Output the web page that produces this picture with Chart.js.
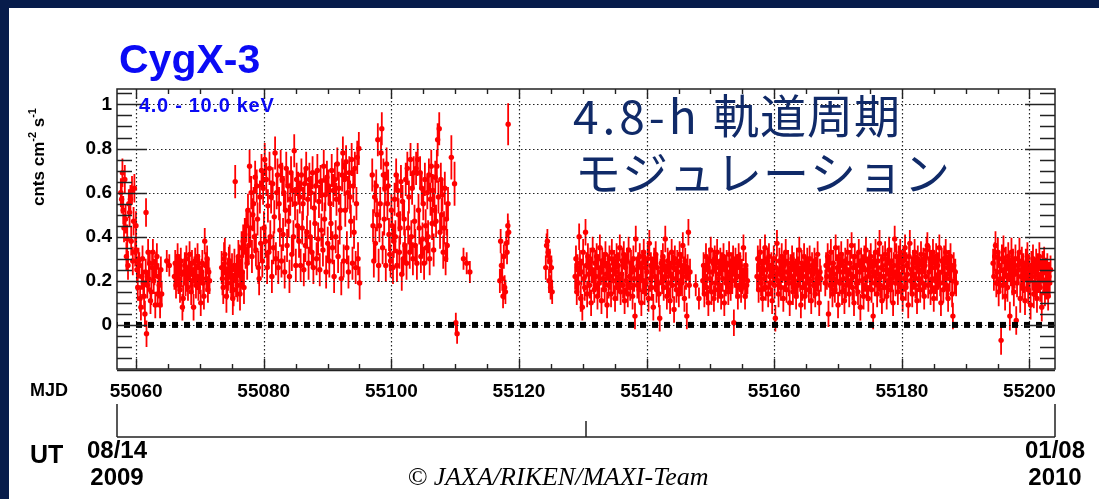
<!DOCTYPE html>
<html>
<head>
<meta charset="utf-8">
<title>CygX-3 MAXI light curve</title>
<script src="https://cdn.jsdelivr.net/npm/chart.js@4.4.1/dist/chart.umd.min.js"></script>
<style>
  html, body { margin: 0; padding: 0; width: 1099px; height: 499px; overflow: hidden; background: #071c4b; }
  #panel { position: absolute; left: 9px; top: 8px; right: 0; bottom: 0; background: #fff; }
  #wrap { position: absolute; left: 0; top: 0; width: 1099px; height: 499px; }
</style>
</head>
<body>
<div id="panel"></div>
<div id="wrap"><canvas id="lc" width="1099" height="499"></canvas></div>
<script>
// CygX-3, MAXI/GSC 4.0-10.0 keV, MJD 55057 (2009/08/14) .. 55204 (2010/01/08)

const mjdRange = [55057, 55204];
const rateRange = [-0.2, 1.07];
const xTicks = [55060, 55080, 55100, 55120, 55140, 55160, 55180, 55200];
const yTicks = [0, 0.2, 0.4, 0.6, 0.8, 1];
const utDates = ['08/14', '01/08'];
const utYears = ['2009', '2010'];

// observation blocks: first bin (MJD), bin spacing (d), typical 1-sigma error (cnts cm^-2 s^-1)
const blockStart = [55057.6, 55060.0, 55061.55, 55064.8, 55066.0, 55073.4, 55097.0, 55109.4, 55110.1,
  55111.3, 55117.0, 55118.3, 55124.2, 55128.8, 55147.7, 55148.8, 55157.3, 55168.0, 55194.3];
const blockStep = [0.125, 0.125, 1, 0.4, 0.125, 0.125, 0.125, 0.5, 0.2,
  0.5, 0.125, 1, 0.125, 0.125, 0.5, 0.125, 0.125, 0.125, 0.125];
const blockErr = [0.065, 0.06, 0.065, 0.05, 0.06, 0.075, 0.075, 0.1, 0.045,
  0.05, 0.055, 0.095, 0.055, 0.06, 0.05, 0.06, 0.06, 0.06, 0.065];

// count rates per bin, in units of 0.01 cnts cm^-2 s^-1
const blockRates = [
  [60, 57, 69, 52, 44, 66, 48, 31, 39, 27, 55, 51, 57, 38, 61, 29, 47, 62, 33, 45],
  [34, 25, 17, 29, 27, 12, 8, 22, 30, 19, 13, 5, 24, -4, 18, 33, 21, 28, 11, 15,
   26, 33, 20, 24, 9, 27, 31, 14, 22, 18, 9, 25, 14],
  [51],
  [29, 27],
  [22, 28, 18, 25, 31, 20, 26, 16, 29, 23, 8, 12, 24, 27, 19, 30, 21, 17, 26, 32,
   23, 15, 28, 20, 8, 25, 29, 18, 22, 31, 17, 26, 20, 10, 24, 28, 19, 13, 38, 27,
   21, 30, 16, 24, 20],
  [26, 21, 17, 30, 32, 24, 13, 19, 23, 28, 29, 22, 19, 25, 12, 16, 27, 65, 20, 24,
   18, 31, 29, 14, 22, 35, 24, 38, 17, 41, 33, 45, 28, 52, 36, 72, 44, 60, 31, 50,
   55, 40, 67, 34, 63, 48, 26, 21, 58, 37, 70, 29, 62, 44, 75, 38, 66, 26, 54, 33,
   71, 40, 58, 22, 64, 35, 49, 78, 30, 60, 68, 26, 55, 43, 72, 29, 66, 41, 60, 24,
   52, 71, 36, 63, 47, 22, 57, 69, 32, 61, 40, 79, 55, 27, 66, 45, 62, 38, 58, 27,
   68, 44, 55, 25, 64, 36, 71, 42, 57, 28, 66, 40, 60, 33, 69, 26, 53, 46, 63, 30,
   70, 39, 56, 25, 65, 43, 59, 34, 72, 48, 59, 24, 67, 37, 63, 29, 55, 46, 70, 35,
   61, 22, 66, 40, 57, 73, 31, 62, 44, 52, 21, 68, 78, 29, 66, 52, 74, 35, 60, 24,
   69, 58, 47, 75, 28, 63, 42, 71, 26, 55, 76, 30, 80, 19],
  [68, 45, 29, 58, 37, 63, 50, 84, 27, 45, 55, 78, 89, 35, 68, 48, 62, 27, 73, 55,
   63, 41, 32, 29, 52, 45, 26, 38, 57, 40, 68, 27, 61, 50, 33, 44, 65, 23, 56, 30,
   48, 36, 66, 28, 71, 44, 58, 33, 75, 40, 62, 30, 69, 47, 36, 71, 28, 75, 52, 44,
   69, 31, 62, 39, 55, 28, 66, 45, 35, 60, 40, 68, 30, 57, 72, 46, 61, 34, 52, 67,
   47, 72, 84, 58, 89, 42, 66, 50, 59, 33, 44, 62, 30, 48, 36, 55],
  [76, 64],
  [1, -4],
  [30, 28, 24],
  [20, 38, 27, 21, 13, 31, 17, 15, 37, 33, 45, 42],
  [91],
  [26, 36, 38, 33, 20, 29, 17, 26, 15],
  [22, 30, 15, 26, 19, 40, 28, 12, 24, 8, 33, 21, 17, 42, 27, 14, 31, 23, 18, 29,
   10, 25, 34, 20, 16, 28, 22, 31, 13, 26, 19, 35, 24, 11, 29, 21, 27, 16, 32, 23,
   9, 26, 18, 30, 22, 14, 33, 25, 20, 28, 12, 24, 31, 17, 27, 21, 35, 15, 23, 29,
   18, 32, 11, 26, 20, 29, 14, 34, 22, 17, 28, 24, 13, 30, 21, 4, 39, 25, 18, 27,
   16, 31, 22, 10, 28, 20, 33, 15, 26, 19, 24, 30, 12, 37, 21, 27, 17, 25, 8, 29,
   22, 32, 16, 26, 19, 14, 3, 24, 28, 20, 31, 17, 25, 39, 22, 13, 29, 19, 27, 11,
   23, 33, 18, 26, 7, 30, 21, 16, 28, 24, 14, 32, 20, 27, 19, 36, 25, 12, 29, 22,
   4, 26, 42, 18, 24],
  [18, 12],
  [20, 27, 14, 22, 31, 17, 25, 10, 29, 21, 34, 15, 24, 28, 12, 30, 19, 26, 33, 16,
   23, 18, 29, 13, 27, 21, 31, 10, 25, 19, 28, 22, 15, 32, 24, 17, 27, 20, 30, 1,
   23, 29, 18, 26, 13, 31, 22, 27, 16, 24, 20, 35, 22, 13, 27, 18, 20],
  [22, 30, 16, 26, 33, 19, 24, 12, 28, 21, 35, 17, 25, 29, 14, 31, 22, 19, 27, 11,
   24, 30, 18, 3, 26, 37, 20, 14, 29, 23, 17, 31, 25, 12, 27, 21, 33, 16, 24, 28,
   19, 10, 26, 22, 30, 15, 27, 20, 23, 13, 29, 18, 25, 34, 21, 9, 28, 17, 22, 31,
   13, 25, 19, 29, 24, 16, 30, 20, 11, 27, 23, 18, 29, 14, 25, 21, 32, 19, 10, 24, 21],
  [19, 27, 22, 31, 5, 25, 18, 33, 21, 14, 28, 23, 16, 35, 20, 26, 9, 30, 19, 24,
   32, 15, 27, 21, 11, 29, 18, 25, 33, 20, 14, 28, 23, 36, 17, 26, 10, 31, 22, 19,
   27, 15, 33, 24, 8, 29, 20, 26, 13, 30, 21, 34, 17, 25, 12, 28, 22, 31, 16, 24,
   4, 27, 19, 33, 23, 14, 29, 21, 37, 18, 26, 11, 30, 22, 17, 32, 25, 13, 28, 20,
   34, 23, 16, 29, 21, 10, 27, 39, 19, 31, 24, 15, 30, 22, 33, 18, 26, 12, 29, 21,
   35, 17, 27, 23, 9, 31, 37, 20, 25, 14, 28, 22, 33, 18, 26, 11, 30, 21, 24, 16,
   32, 25, 19, 29, 13, 27, 22, 34, 36, 18, 24, 30, 15, 28, 21, 33, 12, 26, 20, 31,
   17, 27, 23, 35, 19, 10, 29, 24, 16, 30, 22, 33, 18, 26, 12, 28, 21, 31, 25, 14,
   4, 27, 20, 24, 19],
  [28, 22, 31, 36, 19, 24, 33, 15, 27, 21, -7, 30, 18, 34, 25, 13, 29, 22, 17, 31,
   26, 4, 24, 33, 20, 28, 15, 23, 30, 2, 19, 27, 25, 33, 12, 22, 29, 18, 26, 21,
   11, 28, 23, 31, 16, 25, 20, 9, 27, 22, 30, 14, 24, 19, 28, 12, 26, 21, 31, 17,
   23, 8, 27, 20, 29, 15, 24, 18, 26, 13, 22, 19, 25]
];

const SANS = '"Liberation Sans", Arial, Helvetica, sans-serif';
const red = '#ff0000';

const points = [];
blockRates.forEach((rates, b) => {
  rates.forEach((r, i) => points.push({ x: blockStart[b] + i * blockStep[b], y: r / 100, e: blockErr[b] }));
});

// vertical error bars, drawn under the markers
const errorBars = {
  id: 'errorBars',
  beforeDatasetsDraw(chart) {
    const { ctx, chartArea: a, scales: { x, y } } = chart;
    ctx.save();
    ctx.beginPath();
    ctx.rect(a.left, a.top, a.right - a.left, a.bottom - a.top);
    ctx.clip();
    ctx.strokeStyle = red;
    ctx.lineWidth = 1.8;
    ctx.beginPath();
    points.forEach(p => {
      const px = x.getPixelForValue(p.x);
      ctx.moveTo(px, y.getPixelForValue(p.y - p.e));
      ctx.lineTo(px, y.getPixelForValue(p.y + p.e));
    });
    ctx.stroke();
    ctx.restore();
  }
};

// dotted grid, frame with inward ticks on all four sides, UT axis
const frame = {
  id: 'frame',
  beforeDatasetsDraw(chart) {
    const { ctx, chartArea: a, scales: { x, y } } = chart;
    ctx.save();
    ctx.strokeStyle = '#222';
    ctx.lineWidth = 1.2;
    ctx.setLineDash([1.5, 2.5]);
    ctx.beginPath();
    xTicks.forEach(v => {
      const px = Math.round(x.getPixelForValue(v)) + 0.5;
      ctx.moveTo(px, a.top); ctx.lineTo(px, a.bottom);
    });
    yTicks.forEach(v => {
      const py = Math.round(y.getPixelForValue(v)) + 0.5;
      ctx.moveTo(a.left, py); ctx.lineTo(a.right, py);
    });
    ctx.stroke();
    ctx.restore();
  },
  afterDatasetsDraw(chart) {
    const { ctx, chartArea: a, scales: { x, y } } = chart;
    ctx.save();
    ctx.strokeStyle = '#222';
    ctx.lineWidth = 1.5;
    ctx.strokeRect(a.left, a.top, a.right - a.left, a.bottom - a.top);
    ctx.beginPath();
    ctx.moveTo(a.left, a.bottom + 1.5); ctx.lineTo(a.right, a.bottom + 1.5);
    ctx.stroke();

    ctx.lineWidth = 1.4;
    ctx.beginPath();
    // y: major every 0.2, minor every 0.05
    for (let k = -4; k <= 21; k++) {
      const v = k * 0.05;
      const len = k % 4 === 0 ? 30 : 15;
      const py = Math.round(y.getPixelForValue(v)) + 0.5;
      if (py < a.top || py > a.bottom) continue;
      ctx.moveTo(a.left, py); ctx.lineTo(a.left + len, py);
      ctx.moveTo(a.right, py); ctx.lineTo(a.right - len, py);
    }
    // x: major every 20 d, minor every 5 d
    for (let m = 55060; m <= 55200; m += 5) {
      const len = (m - 55060) % 20 === 0 ? 10 : 5;
      const px = Math.round(x.getPixelForValue(m)) + 0.5;
      ctx.moveTo(px, a.top); ctx.lineTo(px, a.top + len);
      ctx.moveTo(px, a.bottom); ctx.lineTo(px, a.bottom - len);
    }
    ctx.stroke();

    // UT axis below the MJD labels
    const u0 = x.getPixelForValue(mjdRange[0]);
    const u1 = x.getPixelForValue(mjdRange[1]);
    const um = x.getPixelForValue((mjdRange[0] + mjdRange[1]) / 2);
    ctx.lineWidth = 1.5;
    ctx.beginPath();
    ctx.moveTo(u0, 437); ctx.lineTo(u1, 437);
    ctx.moveTo(u0, 404); ctx.lineTo(u0, 437);
    ctx.moveTo(u1, 404); ctx.lineTo(u1, 437);
    ctx.moveTo(um, 421); ctx.lineTo(um, 437);
    ctx.stroke();
    ctx.restore();
  }
};

const labels = {
  id: 'labels',
  afterDraw(chart) {
    const { ctx, scales: { x } } = chart;
    ctx.save();
    ctx.textAlign = 'left';
    ctx.textBaseline = 'alphabetic';

    ctx.fillStyle = '#0a0af5';
    ctx.font = 'bold 41px ' + SANS;
    ctx.fillText('CygX-3', 119, 73);

    ctx.font = 'bold 20px ' + SANS;
    ctx.letterSpacing = '0.7px';
    ctx.fillText('4.0 - 10.0 keV', 139, 112);
    ctx.letterSpacing = '0px';

    // annotation
    ctx.fillStyle = '#102a68';
    ctx.font = '46px "Noto Sans CJK JP", sans-serif';
    ctx.textBaseline = 'middle';
    ctx.letterSpacing = '4px';
    ctx.fillText('4.8-h', 573, 117);
    ctx.letterSpacing = '1px';
    ctx.fillText('軌道周期', 713, 116);
    ctx.fillText('モジュレーション', 575, 173);
    ctx.letterSpacing = '0px';

    ctx.fillStyle = '#000';
    ctx.font = 'bold 18px ' + SANS;
    ctx.fillText('MJD', 30, 391);

    ctx.textBaseline = 'alphabetic';
    ctx.font = 'bold 25px ' + SANS;
    ctx.fillText('UT', 30, 463);

    ctx.textAlign = 'center';
    ctx.font = 'bold 24px ' + SANS;
    mjdRange.forEach((m, i) => {
      const px = x.getPixelForValue(m);
      ctx.fillText(utDates[i], px, 458);
      ctx.fillText(utYears[i], px, 485);
    });

    ctx.font = 'italic 26px "Liberation Serif", "Times New Roman", serif';
    ctx.textBaseline = 'middle';
    ctx.fillText('\u00A9 JAXA/RIKEN/MAXI-Team', 558, 478);

    // y-axis title, rotated
    ctx.translate(44, 206);
    ctx.rotate(-Math.PI / 2);
    ctx.textAlign = 'left';
    ctx.textBaseline = 'alphabetic';
    let cx = 0;
    const part = (t, size, dy) => {
      ctx.font = 'bold ' + size + 'px ' + SANS;
      ctx.fillText(t, cx, dy);
      cx += ctx.measureText(t).width;
    };
    part('cnts cm', 17, 0);
    part('-2', 11, -8);
    part(' s', 17, 0);
    part('-1', 11, -8);
    ctx.restore();
  }
};

new Chart(document.getElementById('lc'), {
  type: 'scatter',
  data: {
    datasets: [
      {
        type: 'line',
        label: 'zero level',
        data: [{ x: mjdRange[0], y: 0 }, { x: mjdRange[1], y: 0 }],
        borderColor: '#000',
        borderWidth: 6,
        borderDash: [6, 6],
        borderDashOffset: 5,
        borderCapStyle: 'butt',
        pointRadius: 0,
        order: 0
      },
      {
        label: '4.0 - 10.0 keV',
        data: points,
        backgroundColor: red,
        borderColor: red,
        borderWidth: 0,
        pointRadius: 2.7,
        order: 1
      }
    ]
  },
  options: {
    responsive: false,
    animation: false,
    events: [],
    layout: { padding: { left: 0, top: 89, right: 44, bottom: 0 } },
    plugins: { legend: { display: false }, tooltip: { enabled: false } },
    scales: {
      x: {
        type: 'linear',
        position: 'bottom',
        min: mjdRange[0],
        max: mjdRange[1],
        grid: { display: false, drawTicks: false },
        border: { display: false },
        afterFit: s => { s.height = 130; },
        afterBuildTicks: s => { s.ticks = xTicks.map(v => ({ value: v })); },
        ticks: {
          color: '#000',
          font: { family: SANS, size: 19, weight: 'bold' },
          padding: 11,
          maxRotation: 0,
          autoSkip: false,
          callback: v => String(v)
        }
      },
      y: {
        type: 'linear',
        position: 'left',
        min: rateRange[0],
        max: rateRange[1],
        grid: { display: false, drawTicks: false },
        border: { display: false },
        afterFit: s => { s.width = 117; },
        afterBuildTicks: s => { s.ticks = yTicks.map(v => ({ value: v })); },
        ticks: {
          color: '#000',
          font: { family: SANS, size: 19, weight: 'bold' },
          padding: 5,
          callback: v => String(Math.round(v * 10) / 10)
        }
      }
    }
  },
  plugins: [errorBars, frame, labels]
});
</script>
</body>
</html>
